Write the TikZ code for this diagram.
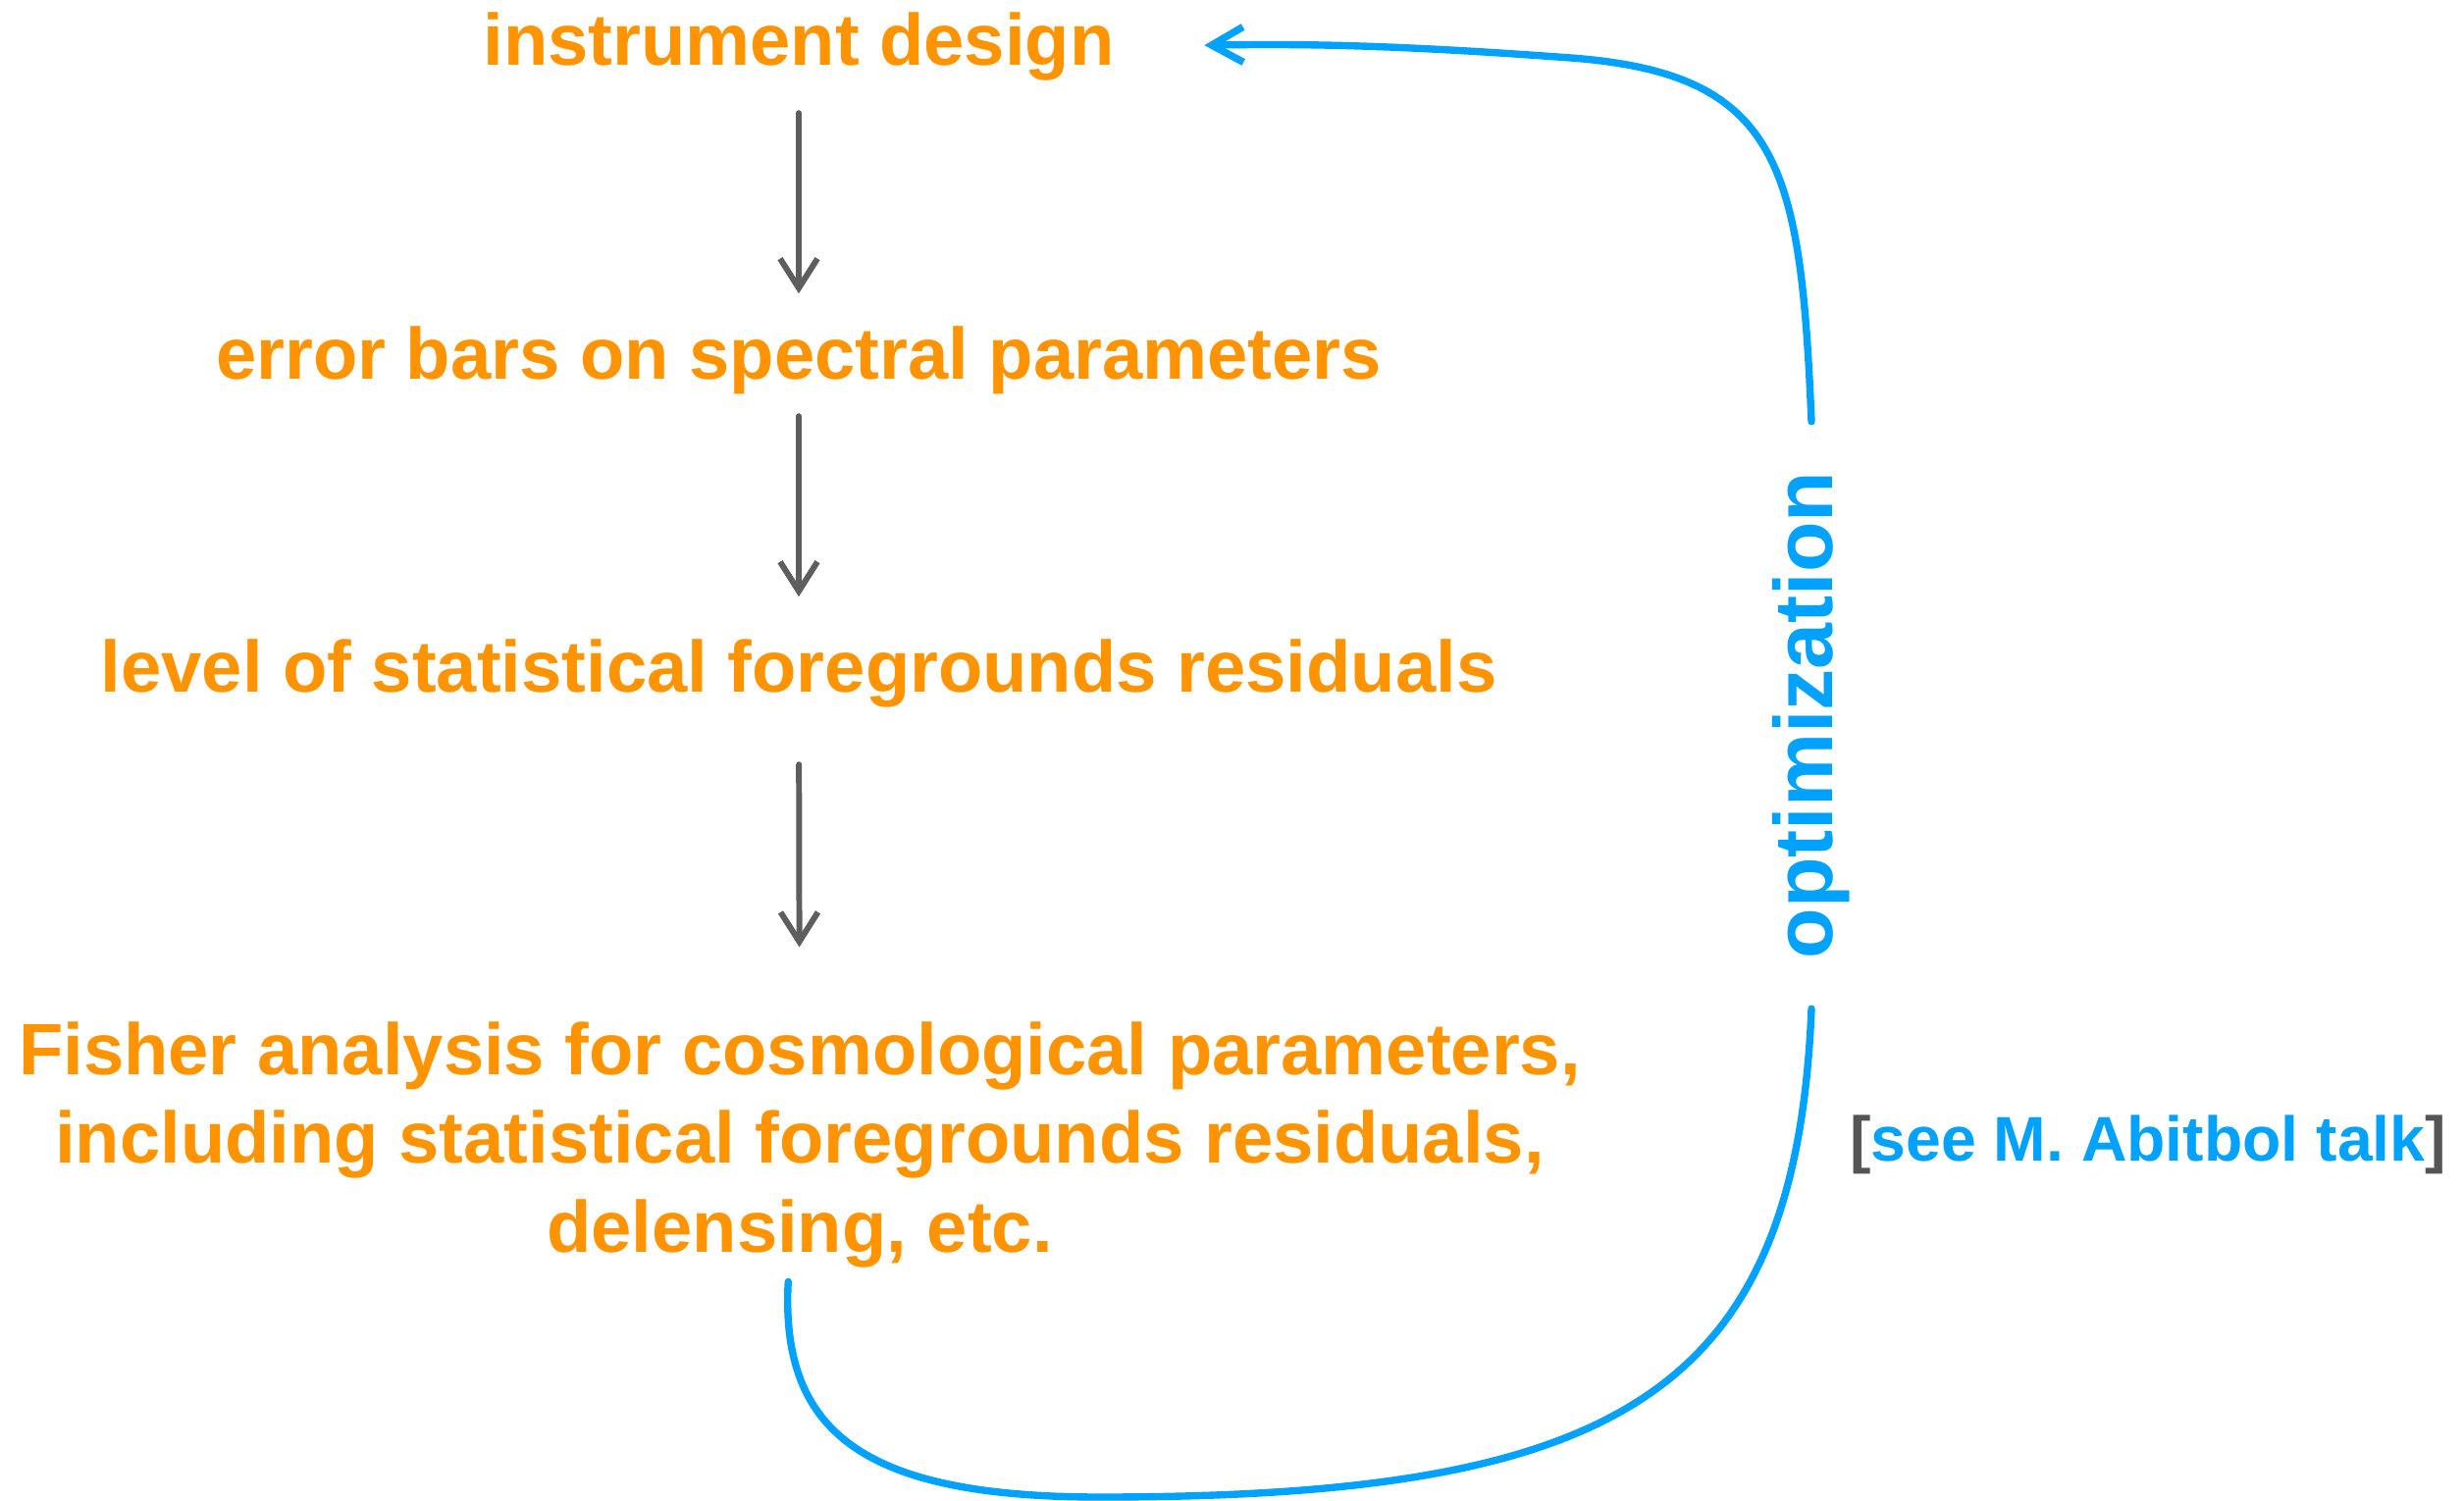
\documentclass[tikz,border=0pt]{standalone}
\usepackage{fontspec}
\setmainfont{Liberation Sans}
\usetikzlibrary{arrows.meta}
\definecolor{keyorange}{RGB}{255,147,0}
\definecolor{keyblue}{RGB}{0,162,255}
\definecolor{arrowgray}{RGB}{94,94,94}
\definecolor{bracketgray}{RGB}{85,85,85}
\begin{document}
\begin{tikzpicture}[
        x=0.01cm, y=-0.01cm,
        txt/.style={text=keyorange, font=\fontsize{21.1}{25.6}\selectfont\bfseries, inner sep=0pt, anchor=base},
        stage/.style={txt, text height=0.55cm, text depth=0.185cm},
        arrow/.style={-{Straight Barb[length=0.3cm,width=0.38cm]}, arrowgray, line width=1.7pt, line cap=round},
        loop/.style={keyblue, line width=2.1pt, line cap=round}
    ]
    \useasboundingbox (0,0) rectangle (2511,1530);
    % Nodes
    \node[stage] (design) at (814,66) {instrument design};
    \node[stage] (errbars) at (814,386) {error bars on spectral parameters};
    \node[stage] (residuals) at (814,705) {level of statistical foregrounds residuals};
    \node[txt, align=center] (fisher) at (815,1276) {Fisher analysis for cosmological parameters,\\including statistical foregrounds residuals,\\delensing, etc.};
    \node[rotate=90, text=keyblue, font=\fontsize{24}{29}\selectfont\bfseries, inner sep=0.5cm] (optim) at (1846,729) {optimization};
    \node[txt, text=keyblue, font=\fontsize{18.3}{22}\selectfont\bfseries] (talk) at (2189,1183) {{\color{bracketgray}[}see M. Abitbol talk{\color{bracketgray}]}};
    % Edges
    \draw[arrow, shorten <=0.30cm, shorten >=0.31cm] (design) -- (errbars);
    \draw[arrow, shorten <=0.19cm, shorten >=0.41cm] (errbars) -- (residuals);
    \draw[arrow, shorten <=0.55cm, shorten >=0.76cm] (residuals) -- (fisher);
    % Feedback loop
    \draw[loop, shorten <=0.14cm] ([xshift=-0.11cm]fisher.south) .. controls (795,1460) and (880,1526) .. (1121,1526)
        .. controls (1650,1526) and (1830,1420) .. (optim.west);
    \draw[loop, -{Straight Barb[length=0.32cm,width=0.36cm]}, shorten >=0.91cm] (optim.east) .. controls (1835,170) and (1815,75) .. (1601,59)
        .. controls (1450,48) and (1350,44) .. (design.east);
\end{tikzpicture}
\end{document}
